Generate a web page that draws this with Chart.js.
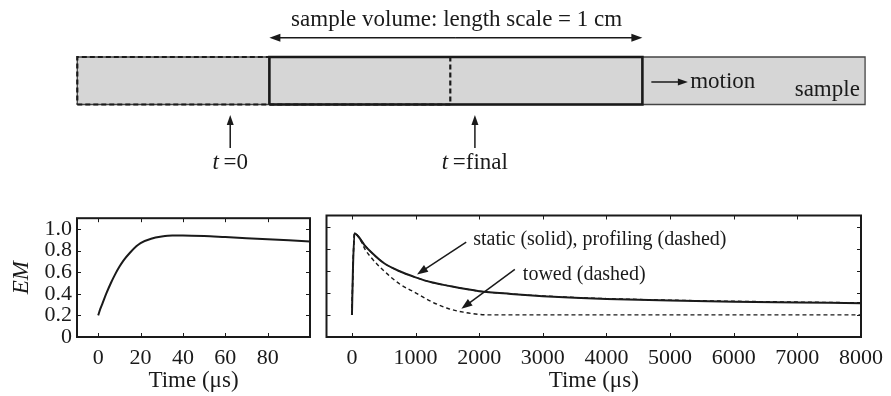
<!DOCTYPE html>
<html>
<head>
<meta charset="utf-8">
<script src="https://cdn.jsdelivr.net/npm/chart.js@4.4.0/dist/chart.umd.min.js"></script>
<style>
  html, body { margin: 0; padding: 0; background: #fff; }
  #wrap { position: relative; width: 891px; height: 396px; overflow: hidden; }
  canvas { position: absolute; }
</style>
</head>
<body>
<div id="wrap">
  <canvas id="diagram" width="891" height="200" style="left:0;top:0"></canvas>
  <canvas id="leftChart" width="318" height="196" style="left:0;top:200px"></canvas>
  <canvas id="rightChart" width="573" height="196" style="left:318px;top:200px"></canvas>
</div>
<script>
// ---- data ----
// early response (0-100 us)
const leftTime = [0, 1, 2, 4, 6, 8, 10, 12, 15, 18, 20, 25, 30, 35, 40, 50, 60, 70, 80, 90, 100];
const leftEM = [0.2, 0.26, 0.31, 0.41, 0.5, 0.58, 0.65, 0.71, 0.78, 0.84, 0.87, 0.91, 0.93, 0.94, 0.94, 0.935, 0.925, 0.915, 0.905, 0.895, 0.885];

// long response (0-8000 us)
const longTime = [0, 15, 40, 100, 200, 300, 500, 750, 1000, 1250, 1500, 2000, 2500, 3000, 3500, 4000, 5000, 6000, 7000, 8000];
const staticEM = [0.2, 0.6, 0.94, 0.91, 0.83, 0.77, 0.67, 0.595, 0.54, 0.495, 0.465, 0.415, 0.39, 0.37, 0.355, 0.345, 0.33, 0.32, 0.313, 0.306];
const profilingEM = [0.2, 0.6, 0.94, 0.91, 0.83, 0.77, 0.67, 0.595, 0.54, 0.495, 0.465, 0.415, 0.39, 0.372, 0.358, 0.348, 0.334, 0.324, 0.317, 0.31];
const towedTime = [0, 15, 40, 100, 150, 200, 300, 500, 750, 1000, 1250, 1500, 1750, 2000, 2150, 3000, 4000, 5000, 6000, 7000, 8000];
const towedEM = [0.2, 0.6, 0.94, 0.91, 0.86, 0.8, 0.72, 0.6, 0.48, 0.4, 0.32, 0.26, 0.225, 0.205, 0.2, 0.2, 0.2, 0.2, 0.2, 0.2, 0.2];

// tick labels
const leftXTicks = [0, 20, 40, 60, 80];
const rightXTicks = [0, 1000, 2000, 3000, 4000, 5000, 6000, 7000, 8000];
const emTicks = [0, 0.2, 0.4, 0.6, 0.8, 1.0];

// schematic (cm): sample bar, sample volume at t=0 and t=final
const sampleBar = [0, 2.112];
const volumeStart = [0, 0.515];
const volumeLength = 1;
const markerPos = [0.41, 1.066];
const markerLabels = ['0', 'final'];

const toXY = (xs, ys) => xs.map((x, i) => ({ x: x, y: ys[i] }));
const rect = (x0, x1) => [{ x: x0, y: 0 }, { x: x1, y: 0 }, { x: x1, y: 1 }, { x: x0, y: 1 }, { x: x0, y: 0 }];

const SERIF = '"Liberation Serif", "DejaVu Serif", serif';
const INK = '#1a1a1a';
Chart.defaults.font.family = SERIF;
Chart.defaults.font.size = 22;
Chart.defaults.color = INK;
Chart.defaults.animation = false;

function drawArrow(ctx, x1, y1, x2, y2, head, half) {
  const a = Math.atan2(y2 - y1, x2 - x1);
  const c = Math.cos(a), s = Math.sin(a);
  ctx.beginPath();
  ctx.moveTo(x1, y1);
  ctx.lineTo(x2 - c * head * 0.8, y2 - s * head * 0.8);
  ctx.stroke();
  ctx.beginPath();
  ctx.moveTo(x2, y2);
  ctx.lineTo(x2 - head * c + half * s, y2 - head * s - half * c);
  ctx.lineTo(x2 - head * c - half * s, y2 - head * s + half * c);
  ctx.closePath();
  ctx.fill();
}

// frame + inward ticks on all four sides
const framePlugin = {
  id: 'frame',
  afterDraw(chart, args, opts) {
    const { ctx, chartArea: a, scales } = chart;
    ctx.save();
    ctx.strokeStyle = INK;
    ctx.lineWidth = 1;
    ctx.beginPath();
    opts.xTicks.forEach(v => {
      const x = Math.round(scales.x.getPixelForValue(v)) + 0.5;
      ctx.moveTo(x, a.bottom); ctx.lineTo(x, a.bottom - 4);
      ctx.moveTo(x, a.top); ctx.lineTo(x, a.top + 4);
    });
    opts.yTicks.forEach(v => {
      const y = Math.round(scales.y.getPixelForValue(v)) + 0.5;
      ctx.moveTo(a.left, y); ctx.lineTo(a.left + 4, y);
      ctx.moveTo(a.right, y); ctx.lineTo(a.right - 4, y);
    });
    ctx.stroke();
    ctx.lineWidth = 2;
    ctx.strokeRect(a.left, a.top, a.width, a.height);
    ctx.restore();
  }
};

// ---------- schematic ----------
const diagramNotes = {
  id: 'diagramNotes',
  afterDatasetsDraw(chart) {
    const { ctx, scales: { x, y } } = chart;
    const px = v => x.getPixelForValue(v);
    const py = v => y.getPixelForValue(v);
    ctx.save();
    ctx.fillStyle = INK;
    ctx.strokeStyle = INK;
    ctx.lineWidth = 1.5;
    ctx.textBaseline = 'middle';

    // title + double arrow
    ctx.font = '23px ' + SERIF;
    ctx.textAlign = 'center';
    ctx.fillText('sample volume: length scale = 1 cm', px(1.017), py(1.78));
    const l = px(volumeStart[1]), r = px(volumeStart[1] + volumeLength), ya = py(1.406);
    drawArrow(ctx, (l + r) / 2, ya, l, ya, 11, 4);
    drawArrow(ctx, (l + r) / 2, ya, r, ya, 11, 4);

    // motion
    drawArrow(ctx, px(1.539), py(0.474), px(1.637), py(0.474), 10, 3.5);
    ctx.textAlign = 'left';
    ctx.fillText('motion', px(1.643), py(0.474));
    ctx.textAlign = 'right';
    ctx.fillText('sample', px(2.098), py(0.3));

    // t markers
    markerPos.forEach((m, i) => {
      const xm = px(m);
      drawArrow(ctx, xm, py(-0.916), xm, py(-0.221), 10, 3.5);
      ctx.font = 'italic 23px ' + SERIF;
      const tw = ctx.measureText('t').width;
      ctx.font = '23px ' + SERIF;
      const rest = '\u2009=' + markerLabels[i];
      const rw = ctx.measureText(rest).width;
      const x0 = xm - (tw + rw) / 2;
      ctx.textAlign = 'left';
      ctx.font = 'italic 23px ' + SERIF;
      ctx.fillText('t', x0, py(-1.232));
      ctx.font = '23px ' + SERIF;
      ctx.fillText(rest, x0 + tw, py(-1.232));
    });
    ctx.restore();
  }
};

new Chart(document.getElementById('diagram'), {
  type: 'scatter',
  data: {
    datasets: [
      { data: rect(volumeStart[1], volumeStart[1] + volumeLength), showLine: true, borderColor: INK, borderWidth: 2.6, pointRadius: 0, order: 1 },
      { data: rect(volumeStart[0], volumeStart[0] + volumeLength), showLine: true, borderColor: INK, borderWidth: 2.2, borderDash: [5, 3], pointRadius: 0, order: 2 },
      { data: rect(sampleBar[0], sampleBar[1]), showLine: true, borderColor: '#444', borderWidth: 1.3, pointRadius: 0, order: 3 },
      { data: [{ x: sampleBar[0], y: 1 }, { x: sampleBar[1], y: 1 }], showLine: true, borderWidth: 0, pointRadius: 0, fill: { value: 0 }, backgroundColor: '#d6d6d6', order: 4 }
    ]
  },
  options: {
    responsive: false,
    layout: { padding: 0, autoPadding: false },
    plugins: { legend: { display: false }, tooltip: { enabled: false } },
    scales: {
      x: { type: 'linear', display: false, min: -0.2072, max: 2.1815 },
      y: { type: 'linear', display: false, min: -2.01, max: 2.2 }
    }
  },
  plugins: [diagramNotes]
});

// ---------- shared axis pieces ----------
const timeTitle = { display: true, text: 'Time (\u03bcs)', font: { size: 23 }, padding: { top: 0, bottom: 1 } };

// ---------- left chart ----------
new Chart(document.getElementById('leftChart'), {
  type: 'line',
  data: {
    datasets: [{
      data: toXY(leftTime, leftEM),
      borderColor: INK, borderWidth: 2, pointRadius: 0,
      cubicInterpolationMode: 'monotone', fill: false
    }]
  },
  options: {
    responsive: false,
    layout: { padding: { top: 15.5, right: 8 }, autoPadding: false },
    plugins: { legend: { display: false }, tooltip: { enabled: false }, frame: { xTicks: leftXTicks, yTicks: emTicks } },
    scales: {
      x: {
        type: 'linear', min: -10, max: 100,
        afterBuildTicks: s => { s.ticks = leftXTicks.map(v => ({ value: v })); },
        afterFit: s => { s.height = 59; },
        grid: { display: false, drawTicks: false }, border: { display: false },
        ticks: { maxRotation: 0, autoSkip: false, padding: 8, callback: v => String(v) },
        title: timeTitle
      },
      y: {
        type: 'linear', min: 0, max: 1.1,
        afterBuildTicks: s => { s.ticks = emTicks.map(v => ({ value: v })); },
        afterFit: s => { s.width = 77; },
        grid: { display: false, drawTicks: false }, border: { display: false },
        ticks: { padding: 5, autoSkip: false, callback: v => v === 0 ? '0' : v.toFixed(1) },
        title: { display: true, text: 'EM', font: { size: 23, style: 'italic' }, padding: { top: 8, bottom: 0 } }
      }
    }
  },
  plugins: [framePlugin]
});

// ---------- right chart ----------
const rightNotes = {
  id: 'rightNotes',
  afterDatasetsDraw(chart) {
    const { ctx, scales: { x, y } } = chart;
    ctx.save();
    ctx.fillStyle = INK;
    ctx.strokeStyle = INK;
    ctx.lineWidth = 1.5;
    ctx.font = '20px ' + SERIF;
    ctx.textBaseline = 'middle';
    ctx.textAlign = 'left';
    ctx.fillText('static (solid), profiling (dashed)', x.getPixelForValue(1905), y.getPixelForValue(0.878));
    ctx.fillText('towed (dashed)', x.getPixelForValue(2686), y.getPixelForValue(0.566));
    drawArrow(ctx, x.getPixelForValue(1796), y.getPixelForValue(0.859), x.getPixelForValue(1022), y.getPixelForValue(0.566), 11, 4);
    drawArrow(ctx, x.getPixelForValue(2560), y.getPixelForValue(0.612), x.getPixelForValue(1720), y.getPixelForValue(0.255), 11, 4);
    ctx.restore();
  }
};

new Chart(document.getElementById('rightChart'), {
  type: 'line',
  data: {
    datasets: [
      { data: toXY(longTime, staticEM), borderColor: INK, borderWidth: 2, pointRadius: 0, cubicInterpolationMode: 'monotone', fill: false },
      { data: toXY(longTime, profilingEM), borderColor: INK, borderWidth: 1.3, borderDash: [4, 3], pointRadius: 0, cubicInterpolationMode: 'monotone', fill: false },
      { data: toXY(towedTime, towedEM), borderColor: INK, borderWidth: 1.4, borderDash: [4, 3], pointRadius: 0, cubicInterpolationMode: 'monotone', fill: false }
    ]
  },
  options: {
    responsive: false,
    layout: { padding: { top: 15.5, left: 8.5, right: 25 }, autoPadding: false },
    plugins: { legend: { display: false }, tooltip: { enabled: false }, frame: { xTicks: rightXTicks, yTicks: emTicks } },
    scales: {
      x: {
        type: 'linear', min: -400, max: 8000,
        afterBuildTicks: s => { s.ticks = rightXTicks.map(v => ({ value: v })); },
        afterFit: s => { s.height = 59; },
        grid: { display: false, drawTicks: false }, border: { display: false },
        ticks: { maxRotation: 0, autoSkip: false, padding: 8, callback: v => String(v) },
        title: timeTitle
      },
      y: { type: 'linear', min: 0, max: 1.1, display: false }
    }
  },
  plugins: [framePlugin, rightNotes]
});
</script>
</body>
</html>
